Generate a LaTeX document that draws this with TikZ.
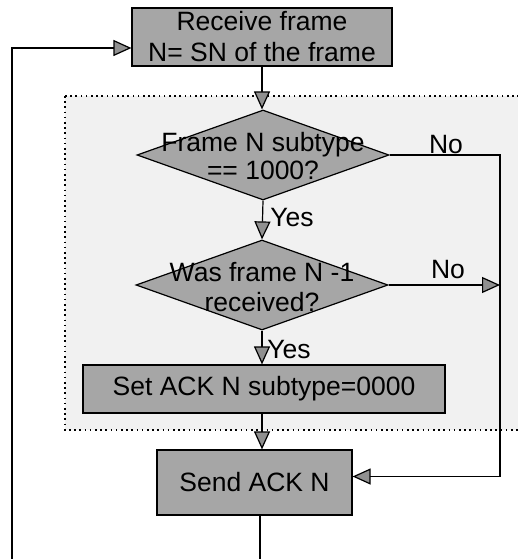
\documentclass[tikz,border=0pt]{standalone}
\usepackage{fontspec}
\setmainfont{Liberation Sans}
\usetikzlibrary{arrows.meta,shapes.geometric,calc}
\definecolor{boxgray}{HTML}{A6A6A6}
\definecolor{tipgray}{HTML}{909090}
\definecolor{zonefill}{HTML}{F1F1F1}
\begin{document}
\begin{tikzpicture}[x=1pt,y=-1pt,
  font=\fontsize{26.5}{31}\selectfont,
  procbox/.style={draw=black, line width=1.2pt, fill=boxgray, inner sep=0pt, align=center},
  decision/.style={draw=black, line width=1.2pt, fill=boxgray, diamond, inner sep=0pt,
                   minimum width=252pt, minimum height=90pt},
  dtext/.style={inner sep=0pt, align=center, font=\fontsize{26.5}{28}\selectfont},
  flow/.style={line width=1.2pt, -{Triangle[length=18pt,width=16pt,fill=tipgray]}},
  link/.style={line width=1.2pt},
  lbl/.style={inner sep=0pt}]
\path[use as bounding box] (0,0) rectangle (518,559);

% dotted zone holding the two checks and the subtype step
\fill[zonefill] (65,96) rectangle (530,430);
\draw[line width=1.6pt, dash pattern=on 1.6pt off 3.6pt] (65,96) rectangle (530,430);

% steps
\node[procbox, minimum width=260pt, minimum height=58pt] (recv) at (262,37)
  {Receive frame\\N= SN of the frame};
\node[decision] (d1) at (263,155) {};
\node[dtext] (t1) at (263,156) {Frame N subtype\\== 1000?};
\node[decision] (d2) at (262,285) {};
\node[dtext, font=\fontsize{26.5}{30}\selectfont] (t2) at (262,287) {Was frame N -1\\received?};
\node[procbox, minimum width=362pt, minimum height=48pt] (set) at (264,389)
  {Set ACK N subtype=0000};
\node[procbox, minimum width=195pt, minimum height=65pt] (send) at (254.5,482.5)
  {Send ACK N};

% free ends at the lower edge
\coordinate (loopL) at (12,559);
\coordinate (out) at (260,559);
\coordinate (rt) at (500,155);

% connectors
\draw[flow] (loopL) |- ($(recv.west)+(0,11)$);
\draw[flow] (recv.south) -- (recv.south |- d1.north);
\draw[flow] (d1.south) -- (d2.north);
\draw[flow] (d2.south) -- (d2.south |- set.north);
\draw[flow] (set.south -| d2.south) -- (d2.south |- send.north);
\draw[link] (send.south -| out) -- (out);
\draw[flow] (d1.east) -- (rt) |- ($(send.east)+(0,-6)$);
\draw[flow] (d2.east) -- (d2.east -| rt);

% branch labels
\node[lbl] (no1) at (446,145) {No};
\node[lbl] (no2) at (448,270) {No};
\node[lbl] (yes1) at (292,218) {Yes};
\node[lbl] (yes2) at (289,350) {Yes};
\end{tikzpicture}
\end{document}
